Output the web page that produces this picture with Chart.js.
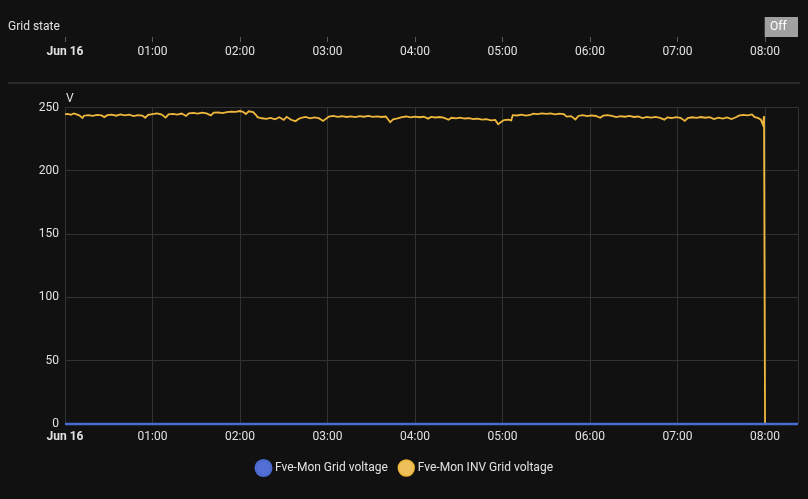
<!DOCTYPE html>
<html><head><meta charset="utf-8">
<script src="https://cdn.jsdelivr.net/npm/chart.js@4.4.1/dist/chart.umd.min.js"></script>
<style>
html,body{margin:0;padding:0;background:#111111;width:808px;height:499px;overflow:hidden;font-family:Roboto,sans-serif;}
#tl{position:absolute;left:0;top:0;width:808px;height:62px;}
#main{position:absolute;left:0;top:86px;width:808px;height:413px;}
#sep{position:absolute;left:8px;top:82px;width:792px;height:2px;background:#2b2b2b;}
</style></head><body>
<div id="tl"><canvas id="c1"></canvas></div>
<div id="sep"></div>
<div id="main"><canvas id="c2"></canvas></div>
<script>
// ---- data ----
const tickLabels = ['Jun 16','01:00','02:00','03:00','04:00','05:00','06:00','07:00','08:00'];
const tickMinutes = [0, 60, 120, 180, 240, 300, 360, 420, 480];
const xMaxMin = 502.6; // minutes after 00:00 shown (end of range)
const yTicks = [0, 50, 100, 150, 200, 250];
const unit = 'V';

const timelineName = 'Grid state';
const stateLabels = ['Off'];
const stateStart = [480];
const stateEnd = [502.6];

const gridName = 'Fve-Mon Grid voltage';
const gridTimes = [0, 502.6];
const gridVolts = [0, 0];

const invName = 'Fve-Mon INV Grid voltage';
const invTimes = [0,2,4,6,8,10,12,13,16,19,22,25,27,29,32,35,38,41,44,47,50,53,55,57,60,63,66,69,71,74,77,80,83,85,88,91,94,97,100,102,105,108,111,114,117,120,122,124,126,129,131,132,135,138,141,144,147,150,152,155,158,160,162,165,168,171,174,177,179,181,184,187,190,193,196,199,202,205,208,211,214,217,220,223,225,228,231,234,237,240,243,246,249,251,254,257,260,263,265,268,271,274,277,280,283,286,289,292,295,297,299,301,304,306,307,310,313,316,319,321,324,327,330,333,336,339,342,344,347,350,352,355,358,361,364,367,369,372,375,378,381,384,387,390,393,396,399,402,405,408,411,413,416,419,422,425,427,430,433,436,439,442,445,448,451,454,457,460,462,465,468,471,473,475,477,478.5,479.3,480,502.6];
const invVolts = [244.5,245.0,244.2,245.3,244.6,243.6,241.8,243.5,244.0,243.4,244.1,243.7,242.4,243.9,244.3,243.5,244.6,243.8,244.4,243.2,244.0,243.6,241.9,244.2,244.8,245.3,244.6,242.0,244.5,245.0,244.4,245.2,243.3,245.4,245.8,245.2,246.0,245.4,243.8,245.9,246.2,245.6,246.4,246.8,246.5,247.2,246.6,244.8,247.0,246.4,244.0,242.4,241.5,241.0,241.8,240.6,242.3,240.2,242.6,240.3,239.2,240.8,241.9,242.6,241.5,242.2,241.6,239.4,241.2,242.8,243.3,242.6,243.1,242.5,243.0,242.4,243.2,242.7,243.4,242.6,243.0,242.5,242.9,238.4,240.6,241.4,242.4,242.9,242.2,242.8,242.3,242.7,241.2,242.6,242.1,242.5,241.8,240.3,241.9,241.4,242.0,241.3,241.6,240.9,241.2,240.5,240.8,239.9,240.2,236.8,238.5,240.1,240.4,239.8,244.0,243.7,244.4,243.6,244.1,245.2,244.8,245.4,244.9,245.3,244.6,245.1,244.7,242.8,243.2,240.6,243.3,243.9,243.2,243.7,243.3,241.9,243.5,244.0,243.4,242.4,243.1,242.7,243.3,242.5,242.9,241.6,242.5,242.0,242.6,241.8,240.4,242.2,241.7,242.4,241.9,239.4,241.6,242.3,241.8,242.5,241.9,242.4,240.9,242.0,241.3,242.2,240.8,242.3,243.6,244.2,243.8,244.5,242.4,241.8,240.6,236.5,243.2,0,0];

// ---- styles ----
const TXT = '#e1e1e1';
const GRID = '#323232';
const FONT = {family: 'Roboto', size: 12};

function hourLabel(v) {
  const i = tickMinutes.indexOf(v);
  return i >= 0 ? tickLabels[i] : '';
}
function tickFont(ctx) {
  return (ctx.tick && ctx.tick.value === 0) ? {family: 'Roboto', size: 12, weight: 'bold'} : FONT;
}

// ---- timeline chart ----
const barTextPlugin = {
  id: 'barText',
  afterDatasetsDraw(chart) {
    const ctx = chart.ctx;
    const meta = chart.getDatasetMeta(0);
    ctx.save();
    ctx.fillStyle = '#ffffff';
    ctx.font = '12px Roboto';
    ctx.textBaseline = 'middle';
    ctx.textAlign = 'left';
    meta.data.forEach((bar, i) => {
      const left = Math.min(bar.base, bar.x);
      ctx.fillText(stateLabels[i], left + 5, bar.y);
    });
    ctx.restore();
  }
};

new Chart(document.getElementById('c1'), {
  type: 'bar',
  data: {
    labels: [timelineName],
    datasets: [{
      data: stateStart.map((s, i) => [s, stateEnd[i]]),
      backgroundColor: '#a0a0a0',
      borderWidth: 0,
      borderSkipped: false,
      barPercentage: 1,
      categoryPercentage: 1
    }]
  },
  options: {
    indexAxis: 'y',
    responsive: true,
    maintainAspectRatio: false,
    animation: false,
    layout: {padding: {top: 17, left: 8, right: 10, bottom: 0}},
    plugins: {legend: {display: false}, tooltip: {enabled: false}},
    scales: {
      x: {
        type: 'linear', min: 0, max: xMaxMin,
        afterFit(s) { s.height = 25; },
        afterBuildTicks(s) { s.ticks = tickMinutes.map(v => ({value: v})); },
        border: {display: false},
        grid: {drawOnChartArea: false, drawTicks: true, tickLength: 5, tickColor: '#5a5a5a'},
        ticks: {autoSkip: false, maxRotation: 0, padding: 3, color: TXT, font: tickFont, callback: hourLabel}
      },
      y: {
        afterFit(s) { s.width = 57; },
        border: {display: false},
        grid: {display: false},
        ticks: {crossAlign: 'far', color: TXT, font: FONT, padding: 0}
      }
    }
  },
  plugins: [barTextPlugin]
});

// ---- line chart ----
const unitPlugin = {
  id: 'unitTitle',
  afterLayout(chart) {
    if (chart.legend) { chart.legend.left += 6.5; chart.legend.right += 6.5; }
  },
  afterDraw(chart) {
    const ctx = chart.ctx, a = chart.chartArea;
    ctx.save();
    ctx.fillStyle = TXT;
    ctx.font = '12px Roboto';
    ctx.textAlign = 'left';
    ctx.textBaseline = 'middle';
    ctx.fillText(unit, a.left + 1, a.top - 9);
    ctx.restore();
  }
};

new Chart(document.getElementById('c2'), {
  type: 'line',
  data: {
    datasets: [
      {
        label: gridName,
        data: gridTimes.map((t, i) => ({x: t, y: gridVolts[i]})),
        borderColor: '#4a6bd0',
        backgroundColor: '#5470d6',
        borderWidth: 2.5,
        pointRadius: 0,
        fill: false,
        clip: 4
      },
      {
        label: invName,
        data: invTimes.map((t, i) => ({x: t, y: invVolts[i]})),
        borderColor: '#efb83c',
        backgroundColor: '#edc05c',
        borderWidth: 1.8,
        pointRadius: 0,
        tension: 0,
        fill: false,
        clip: 4
      }
    ]
  },
  options: {
    responsive: true,
    maintainAspectRatio: false,
    animation: false,
    layout: {padding: {top: 21.5, left: 0, right: 10, bottom: 15}},
    plugins: {
      tooltip: {enabled: false},
      legend: {
        position: 'bottom',
        labels: {usePointStyle: true, pointStyle: 'circle', boxWidth: 11, boxHeight: 11, padding: 13, color: TXT, font: FONT}
      }
    },
    scales: {
      x: {
        type: 'linear', min: 0, max: xMaxMin,
        afterFit(s) { s.height = 25; },
        afterBuildTicks(s) { s.ticks = tickMinutes.concat([xMaxMin]).map(v => ({value: v})); },
        border: {display: false},
        grid: {color: GRID, drawTicks: false},
        ticks: {autoSkip: false, maxRotation: 0, padding: 6, color: TXT, font: tickFont, callback: hourLabel}
      },
      y: {
        min: 0, max: 250,
        afterFit(s) { s.width = 65; },
        afterBuildTicks(s) { s.ticks = yTicks.map(v => ({value: v})); },
        border: {display: false},
        grid: {color: GRID, drawTicks: false},
        ticks: {padding: 6, color: TXT, font: FONT}
      }
    }
  },
  plugins: [unitPlugin]
});
</script>
</body></html>
